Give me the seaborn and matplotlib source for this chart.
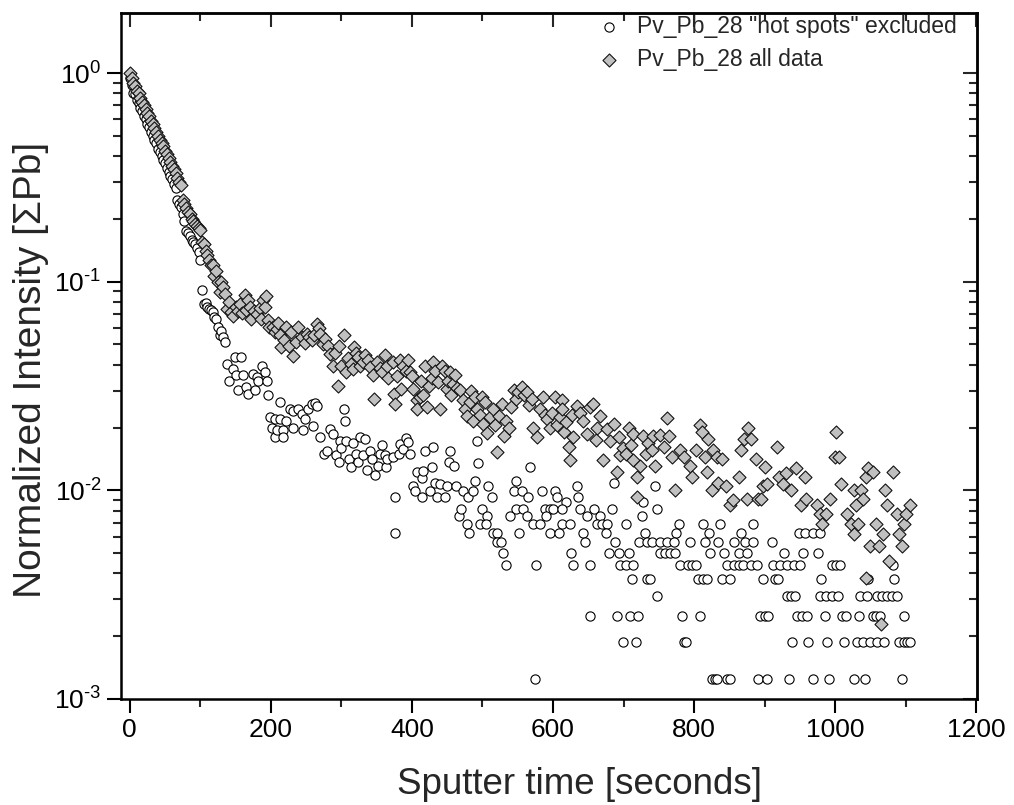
import matplotlib
matplotlib.use("Agg")
import matplotlib.pyplot as plt
from matplotlib.ticker import MultipleLocator, LogLocator, NullFormatter, FuncFormatter
import seaborn as sns
import pandas as pd
import math

# ---------------- data ----------------
# "hot spots" excluded (open circles)
excl_early_t = [0, 2.5, 5, 7.5, 10, 12.5, 15, 17.5, 20, 22.5, 25, 27.5, 30, 32.5, 35, 37.5, 40,
                42.5, 45, 47.5, 50, 52.5, 55, 57.5, 60, 62.5, 65,
                67.5, 70, 72.5, 75, 77.5, 80, 82.5, 85, 87.5, 90, 92.5, 95, 97.5, 100,
                102.5, 105, 107.5, 110, 112.5, 115, 117.5, 120, 122.5, 125, 127.5, 130, 132.5, 135,
                137.5, 140]
excl_early_v = [0.95, 0.88, 0.80, 0.79, 0.74, 0.72, 0.68, 0.66, 0.62, 0.60, 0.57, 0.55, 0.52, 0.50,
                0.48, 0.46, 0.43, 0.42, 0.40, 0.385, 0.37, 0.35, 0.335, 0.32, 0.31, 0.295, 0.28,
                0.245, 0.235, 0.228, 0.21, 0.195, 0.175, 0.172, 0.165, 0.158, 0.155, 0.152, 0.145,
                0.139, 0.127,
                0.091, 0.0785, 0.079, 0.0756, 0.074, 0.073, 0.0715, 0.068, 0.066, 0.0607, 0.0553,
                0.058, 0.0545, 0.0513, 0.0404, 0.0336]

excl_mid = [(147, 0.0383), (149, 0.0435), (151, 0.0356), (154, 0.0302), (158, 0.0435), (161, 0.0356),
            (165, 0.0313), (168, 0.0290), (175, 0.0362), (177, 0.0302), (180, 0.0348), (182, 0.0336),
            (188, 0.0396), (191, 0.0368), (194, 0.0336), (196, 0.0286), (199, 0.0224), (201, 0.0200),
            (206, 0.0220), (206, 0.0180), (208, 0.0194), (213, 0.0265), (213, 0.0220), (217, 0.0194),
            (217, 0.0180), (222, 0.0216), (227, 0.0245), (232, 0.0241), (232, 0.0200), (239, 0.0245),
            (244, 0.0233), (246, 0.0194), (248, 0.0220), (253, 0.0245), (258, 0.0258), (260, 0.0204),
            (262, 0.0263), (265, 0.0254), (270, 0.0180), (276, 0.0150), (280, 0.0155), (284, 0.0196),
            (288, 0.0186), (292, 0.0147), (296, 0.0136), (298, 0.0173), (300, 0.0160), (303, 0.0245),
            (305, 0.0216), (307, 0.0173), (311, 0.0141), (314, 0.0129), (317, 0.0168), (320, 0.0150),
            (323, 0.0136), (326, 0.0180), (330, 0.0147), (333, 0.0177), (336, 0.0125), (340, 0.0155),
            (344, 0.0141), (348, 0.0118), (352, 0.0131), (355, 0.0150)]

excl_late = [(357, 0.0164), (362, 0.0147), (363, 0.0129), (364, 0.0141), (373, 0.0144), (376, 0.00925),
             (376, 0.00625), (381, 0.0149), (383, 0.0167), (388, 0.0158), (392, 0.0179), (395, 0.0170),
             (397, 0.0149), (402, 0.0105), (404, 0.00995), (407, 0.0122), (414, 0.0115), (414, 0.00925),
             (416, 0.0124), (418, 0.0155), (426, 0.00995), (428, 0.0129), (430, 0.0161), (433, 0.0109),
             (435, 0.00925), (440, 0.0107), (447, 0.00925), (449, 0.0105), (452, 0.0136), (454, 0.0155),
             (459, 0.0131), (463, 0.0105), (467, 0.0075), (470, 0.008125), (473, 0.00995),
             (478, 0.006875), (480, 0.00925), (481, 0.00625), (487, 0.00995), (489, 0.0111),
             (492, 0.0173), (494, 0.0135), (496, 0.006875), (500, 0.008125), (567, 0.0129),
             (548, 0.0111), (508, 0.0105), (634, 0.0105), (745, 0.0105), (686, 0.0109),
             (544, 0.00995), (556, 0.00995), (584, 0.00995), (603, 0.00995),
             (513, 0.00925), (565, 0.00925), (605, 0.00925), (636, 0.00925),
             (619, 0.00875), (728, 0.00875)]

# low-count region: quantised intensity levels and the times at which they occur
excl_levels = [0.008125, 0.0075, 0.006875, 0.00625, 0.005625, 0.005, 0.004375,
               0.00375, 0.003125, 0.0025, 0.001875, 0.00125]
excl_level_times = [
    [548, 557, 588, 595, 600, 613, 638, 658, 683, 747],
    [506, 539, 563, 590, 648, 667, 726],
    [505, 572, 582, 612, 624, 662, 670, 677, 704, 778, 813, 837, 884],
    [515, 521, 552, 596, 609, 643, 675, 731, 775, 821, 867, 948, 957, 969, 978],
    [520, 526, 645, 688, 722, 733, 741, 752, 761, 771, 794, 816, 834, 856, 872, 884, 910],
    [529, 626, 680, 693, 707, 751, 759, 766, 773, 823, 842, 863, 875, 927, 954, 976],
    [534, 576, 629, 652, 695, 704, 714, 780, 792, 797, 802, 846, 856, 863, 870, 880, 889,
     912, 922, 931, 941, 950, 995, 1001, 1007, 1082],
    [712, 733, 738, 806, 812, 818, 839, 851, 898, 915, 919, 980, 1047, 1084],
    [748, 931, 937, 943, 979, 987, 995, 1004, 1035, 1045, 1059, 1066, 1073, 1080, 1087],
    [652, 690, 709, 720, 783, 808, 894, 900, 905, 946, 953, 960, 986, 1009, 1016, 1034,
     1053, 1058, 1064, 1098],
    [699, 718, 785, 789, 939, 962, 988, 1012, 1031, 1040, 1050, 1059, 1069, 1090, 1097,
     1102, 1106],
    [574, 825, 829, 832, 846, 851, 891, 903, 935, 969, 991, 1027, 1042, 1095],
]

# all data (grey diamonds)
all_early_t = [0, 2.5, 5, 7.5, 10, 12.5, 15, 17.5, 20, 22.5, 25, 27.5, 30, 32.5, 35, 37.5, 40,
               42.5, 45, 47.5, 50, 52.5, 55, 57.5, 60, 62.5, 65, 67.5, 70, 72.5,
               75, 77.5, 80, 82.5, 85, 87.5, 90, 92.5, 95, 97.5, 100,
               102.5, 105, 107.5, 110, 112.5, 115, 117.5, 120, 122.5, 125, 127.5, 130, 132.5,
               135, 137.5]
all_early_v = [1.00, 0.95, 0.90, 0.87, 0.82, 0.80, 0.76, 0.73, 0.70, 0.67, 0.64, 0.62, 0.59, 0.57,
               0.545, 0.52, 0.50, 0.48, 0.46, 0.445, 0.425, 0.41, 0.39, 0.375, 0.36, 0.345, 0.33,
               0.315, 0.30, 0.29,
               0.245, 0.235, 0.225, 0.215, 0.21, 0.20, 0.195, 0.19, 0.185, 0.18, 0.176,
               0.155, 0.152, 0.141, 0.134, 0.127, 0.12, 0.12, 0.107, 0.113, 0.0995, 0.089, 0.0995,
               0.094, 0.0877, 0.0743]

all_mid = [(140, 0.080), (143, 0.0712), (147, 0.0688), (151, 0.0756), (154, 0.0725), (156, 0.0783),
           (159, 0.0705), (163, 0.0862), (165, 0.0735), (168, 0.0815), (170, 0.0756), (172, 0.0664),
           (176, 0.0720), (180, 0.0703), (184, 0.0745), (186, 0.0665), (189, 0.0815), (191, 0.0756),
           (193, 0.0858), (196, 0.0652), (198, 0.0605), (203, 0.0607), (206, 0.0575), (208, 0.0595),
           (210, 0.0635), (213, 0.0553), (215, 0.0484), (218, 0.0525), (222, 0.0607), (225, 0.0493),
           (228, 0.0575), (232, 0.0442), (235, 0.0515), (239, 0.0607), (244, 0.0543), (248, 0.0510),
           (251, 0.0564), (254, 0.0545), (258, 0.0523), (261, 0.0555), (265, 0.0630), (268, 0.0602),
           (270, 0.0564), (274, 0.0504), (277, 0.0530), (281, 0.0493), (284, 0.0451), (288, 0.0396),
           (291, 0.0455), (295, 0.0316), (296, 0.0490), (300, 0.0396), (303, 0.0553), (307, 0.0368),
           (310, 0.0430), (313, 0.0405), (317, 0.0383), (318, 0.0484), (320, 0.0455), (324, 0.0435),
           (327, 0.0395), (331, 0.0412), (334, 0.0445), (338, 0.0420), (341, 0.0390), (345, 0.0356),
           (346, 0.0274), (350, 0.0410), (355, 0.0386)]

all_late = [(357, 0.0368), (362, 0.0443), (364, 0.0396), (366, 0.0345), (373, 0.0412), (374, 0.029),
            (376, 0.026), (379, 0.0355), (383, 0.042), (385, 0.0307), (388, 0.0396), (392, 0.0375),
            (395, 0.042), (397, 0.0368), (400, 0.0355), (402, 0.0307), (407, 0.027), (407, 0.0245),
            (411, 0.028), (413, 0.0335), (416, 0.0286), (418, 0.0395), (421, 0.025), (424, 0.0315),
            (428, 0.0344), (430, 0.0412), (433, 0.0375), (437, 0.0332), (440, 0.0245), (443, 0.0395),
            (447, 0.0375), (449, 0.0307), (451, 0.0335), (454, 0.0368), (456, 0.0286), (458, 0.0325),
            (461, 0.0356), (464, 0.0310), (468, 0.0302), (473, 0.027), (475, 0.0245), (478, 0.0228),
            (482, 0.0265), (484, 0.0300), (487, 0.0216), (489, 0.028), (492, 0.0245), (496, 0.0230),
            (499, 0.028), (501, 0.0208), (504, 0.0265), (506, 0.0189), (510, 0.0225), (515, 0.0245),
            (518, 0.0205), (520, 0.0152), (523, 0.0228), (527, 0.026), (530, 0.0183), (533, 0.0215),
            (537, 0.020), (541, 0.025), (544, 0.0302), (547, 0.0275), (551, 0.0295), (556, 0.0313),
            (559, 0.0285), (563, 0.0296), (566, 0.0255), (570, 0.0274), (572, 0.020), (577, 0.018),
            (581, 0.0245), (586, 0.028), (588, 0.0230), (591, 0.022), (596, 0.020), (599, 0.0235),
            (603, 0.028), (606, 0.0205), (610, 0.0224), (612, 0.027), (612, 0.0245), (616, 0.0190),
            (619, 0.0213), (622, 0.0161), (624, 0.0139), (627, 0.0230), (629, 0.018), (634, 0.0254),
            (638, 0.0235), (643, 0.0216), (648, 0.0186), (652, 0.025), (657, 0.026), (661, 0.0175),
            (662, 0.020), (667, 0.0228), (671, 0.0139), (676, 0.0196), (681, 0.0173), (686, 0.0208),
            (690, 0.0122), (693, 0.018), (695, 0.0147), (699, 0.0160), (704, 0.015), (707, 0.020),
            (710, 0.0165), (714, 0.0186), (714, 0.0139), (719, 0.0116), (719, 0.0093), (723, 0.0131),
            (728, 0.0183), (732, 0.0150), (735, 0.0168),
            (740, 0.0156), (742, 0.0183), (745, 0.0131), (752, 0.0185), (757, 0.0161), (761, 0.0221),
            (765, 0.0183), (768, 0.0145), (773, 0.0100), (780, 0.0156), (785, 0.0145), (794, 0.0131),
            (797, 0.0116), (802, 0.0156), (809, 0.0205), (811, 0.019), (816, 0.0145), (818, 0.0123),
            (820, 0.0177), (825, 0.0100), (827, 0.0156), (832, 0.0145), (834, 0.0109), (839, 0.0142),
            (845, 0.0105), (851, 0.0085), (855, 0.009), (863, 0.0116), (867, 0.0156), (871, 0.0177),
            (875, 0.0091), (877, 0.0199), (880, 0.0177), (888, 0.0142), (890, 0.0091), (895, 0.0091),
            (897, 0.0105), (901, 0.013), (904, 0.0107), (917, 0.0161), (921, 0.0116), (926, 0.0107),
            (930, 0.0121), (938, 0.0100), (945, 0.0128), (952, 0.0085), (957, 0.0116), (959, 0.0091),
            (974, 0.0085), (979, 0.0077), (981, 0.0069), (987, 0.0077), (992, 0.0091), (1000, 0.0145),
            (1001, 0.0191), (1005, 0.0145), (1008, 0.0107), (1017, 0.0077), (1022, 0.0069),
            (1026, 0.0062), (1027, 0.0100), (1030, 0.0085), (1033, 0.0069), (1037, 0.0100),
            (1040, 0.0091), (1043, 0.0038), (1044, 0.0116), (1046, 0.0128), (1050, 0.0054),
            (1053, 0.0123), (1058, 0.0069), (1062, 0.0054), (1065, 0.0023), (1068, 0.0062),
            (1071, 0.0100), (1074, 0.0085), (1076, 0.0046), (1082, 0.0123), (1087, 0.0077),
            (1090, 0.0062), (1094, 0.0054), (1097, 0.0069), (1101, 0.0077), (1106, 0.0085)]

label_excl = 'Pv_Pb_28 "hot spots" excluded'
label_all = 'Pv_Pb_28 all data'

# ---------------- assemble ----------------
ex_t = list(excl_early_t) + [p[0] for p in excl_mid] + [p[0] for p in excl_late]
ex_v = list(excl_early_v) + [p[1] for p in excl_mid] + [p[1] for p in excl_late]
for lvl, times in zip(excl_levels, excl_level_times):
    ex_t += times
    ex_v += [lvl] * len(times)
df_ex = pd.DataFrame({"t": ex_t, "v": ex_v})

al_t = list(all_early_t) + [p[0] for p in all_mid] + [p[0] for p in all_late]
al_v = list(all_early_v) + [p[1] for p in all_mid] + [p[1] for p in all_late]
df_al = pd.DataFrame({"t": al_t, "v": al_v})

# ---------------- plot ----------------
sns.set_style("ticks")
plt.rcParams['font.family'] = ['Liberation Sans', 'DejaVu Sans']
plt.rcParams['mathtext.fontset'] = 'custom'
plt.rcParams['mathtext.rm'] = 'Liberation Sans'
plt.rcParams['mathtext.it'] = 'Liberation Sans:italic'
plt.rcParams['mathtext.bf'] = 'Liberation Sans:bold'

fig = plt.figure(figsize=(10.14, 8.05), dpi=100)
ax = fig.add_axes([0.1193, 0.1317, 0.8442, 0.8522])

sns.scatterplot(data=df_ex, x="t", y="v", ax=ax, marker="o", s=44, color="white",
                edgecolor="black", linewidth=0.8, label=label_excl, zorder=3)
sns.scatterplot(data=df_al, x="t", y="v", ax=ax, marker="D", s=44, color="#c0c0c0",
                edgecolor="#111111", linewidth=0.8, label=label_all, zorder=4)

ax.set_yscale("log")
ax.set_xlim(-12.5, 1201)
ax.set_ylim(1e-3, 1.94)


def pow10_label(val, pos):
    e = int(round(math.log10(val)))
    if e < 0:
        return r"$\mathdefault{10^{\text{-}%d}}$" % (-e)
    return r"$\mathdefault{10^{%d}}$" % e


ax.xaxis.set_major_locator(MultipleLocator(200))
ax.xaxis.set_minor_locator(MultipleLocator(100))
ax.yaxis.set_major_locator(LogLocator(base=10))
ax.yaxis.set_major_formatter(FuncFormatter(pow10_label))
ax.yaxis.set_minor_locator(LogLocator(base=10, subs=[2, 3, 4, 5, 6, 7, 8, 9]))
ax.yaxis.set_minor_formatter(NullFormatter())

for sp in ax.spines.values():
    sp.set_linewidth(1.8)
    sp.set_color("black")

ax.tick_params(which="major", direction="out", length=10, width=1.5, labelsize=19,
               colors="black", pad=4)
ax.tick_params(which="minor", direction="out", length=6, width=1.5)

# mirrored inward ticks on the top and right
secx = ax.secondary_xaxis("top")
secx.xaxis.set_major_locator(MultipleLocator(200))
secx.xaxis.set_minor_locator(MultipleLocator(100))
secx.tick_params(which="major", direction="in", length=10, width=1.5, labeltop=False)
secx.tick_params(which="minor", direction="in", length=6, width=1.5)
secx.spines["top"].set_linewidth(1.8)

secy = ax.secondary_yaxis("right")
secy.yaxis.set_major_locator(LogLocator(base=10))
secy.yaxis.set_minor_locator(LogLocator(base=10, subs=[2, 3, 4, 5, 6, 7, 8, 9]))
secy.tick_params(which="major", direction="in", length=10, width=1.5, labelright=False)
secy.tick_params(which="minor", direction="in", length=6, width=1.5, labelright=False)
secy.yaxis.set_minor_formatter(NullFormatter())
secy.spines["right"].set_linewidth(1.8)

ax.set_xlabel("Sputter time [seconds]", fontsize=26.5, labelpad=18)
ax.xaxis.label.set_x(0.536)
ax.set_ylabel("Normalized Intensity [ΣPb]", fontsize=28)
ax.yaxis.set_label_coords(-0.084, 0.4796)

leg = ax.legend(loc="upper left", bbox_to_anchor=(0.5459, 1.010), frameon=False, fontsize=16.5,
                handlelength=1.0, handletextpad=0.72, labelspacing=0.42, borderpad=0.4,
                borderaxespad=0.0, markerscale=1.0)

fig.savefig("out.png", dpi=100)
